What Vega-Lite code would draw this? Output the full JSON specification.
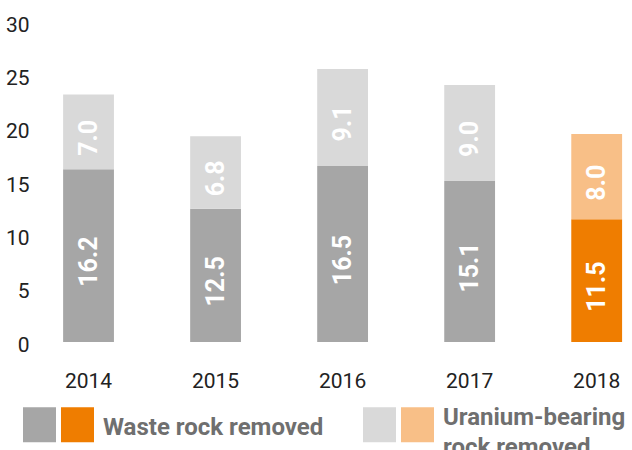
{
  "$schema": "https://vega.github.io/schema/vega-lite/v6.json",
  "width": 592,
  "height": 320,
  "autosize": "none",
  "padding": {"left": 40, "top": 22, "right": 0, "bottom": 108},
  "background": "white",
  "config": {"view": {"stroke": null}, "style": {"guide-label": {"lineHeight": 10}}},
  "data": {"values": [
    {"year": "2014", "series": "Waste rock removed", "value": 16.2},
    {"year": "2014", "series": "Uranium-bearing rock removed", "value": 7.0},
    {"year": "2015", "series": "Waste rock removed", "value": 12.5},
    {"year": "2015", "series": "Uranium-bearing rock removed", "value": 6.8},
    {"year": "2016", "series": "Waste rock removed", "value": 16.5},
    {"year": "2016", "series": "Uranium-bearing rock removed", "value": 9.1},
    {"year": "2017", "series": "Waste rock removed", "value": 15.1},
    {"year": "2017", "series": "Uranium-bearing rock removed", "value": 9.0},
    {"year": "2018", "series": "Waste rock removed", "value": 11.5},
    {"year": "2018", "series": "Uranium-bearing rock removed", "value": 8.0}
  ]},
  "encoding": {
    "x": {
      "field": "year", "type": "ordinal",
      "scale": {"paddingInner": 0.6, "paddingOuter": 0.13, "align": 0.7},
      "axis": {"title": null, "domain": false, "ticks": false, "grid": false, "labelAngle": 0,
               "labelFont": "Roboto", "labelFontSize": 21, "labelColor": "#222222", "labelPadding": 28}
    }
  },
  "layer": [
    {
      "transform": [{"filter": "datum.year != '2018'"}],
      "mark": {"type": "bar"},
      "encoding": {
        "y": {"field": "value", "type": "quantitative", "stack": "zero",
              "scale": {"domain": [0, 30], "nice": false},
              "axis": {"title": null, "values": [0, 5, 10, 15, 20, 25, 30], "domain": false, "ticks": false, "grid": false,
                       "labelFont": "Roboto", "labelFontSize": 21, "labelColor": "#222222", "labelPadding": 11, "labelOffset": 3}},
        "color": {"field": "series", "type": "nominal",
                  "scale": {"domain": ["Waste rock removed", "Uranium-bearing rock removed"], "range": ["#a6a6a6", "#d9d9d9"]},
                  "legend": {"title": null, "orient": "none", "direction": "horizontal", "legendX": -18, "legendY": 385,
                             "padding": 0, "columnPadding": 76,
                             "symbolType": "M-0.943,-1H0.943V1H-0.943Z", "symbolSize": 1225, "symbolStrokeWidth": 0, "symbolOpacity": 1,
                             "labelFont": "Roboto", "labelFontWeight": "bold", "labelFontSize": 24, "labelColor": "#6f6f6f",
                             "labelOpacity": 0, "labelOffset": 8, "labelLimit": 400, "labelBaseline": "alphabetic",
                             "labelExpr": "datum.label == 'Uranium-bearing rock removed' ? ['Uranium-bearing', '\u200b', '\u200b', 'rock removed'] : ['\u200b', datum.label, '\u200b', '\u200b']"}},
        "order": {"field": "series", "sort": "descending"}
      }
    },
    {
      "transform": [{"filter": "datum.year == '2018'"}],
      "mark": {"type": "bar"},
      "encoding": {
        "y": {"field": "value", "type": "quantitative", "stack": "zero"},
        "color": {"field": "series", "type": "nominal",
                  "scale": {"domain": ["Waste rock removed", "Uranium-bearing rock removed"], "range": ["#ef7d00", "#f8bf87"]},
                  "legend": {"title": null, "orient": "none", "direction": "horizontal", "legendX": 20, "legendY": 385,
                             "padding": 0, "columnPadding": 76,
                             "symbolType": "M-0.943,-1H0.943V1H-0.943Z", "symbolSize": 1225, "symbolStrokeWidth": 0, "symbolOpacity": 1,
                             "labelFont": "Roboto", "labelFontWeight": "bold", "labelFontSize": 24, "labelColor": "#6f6f6f",
                             "labelOffset": 8, "labelLimit": 400, "labelBaseline": "alphabetic",
                             "labelExpr": "datum.label == 'Uranium-bearing rock removed' ? ['Uranium-bearing', '\u200b', '\u200b', 'rock removed'] : ['\u200b', datum.label, '\u200b', '\u200b']"}},
        "order": {"field": "series", "sort": "descending"}
      }
    },
    {
      "transform": [
        {"stack": "value", "groupby": ["year"], "sort": [{"field": "series", "order": "descending"}], "as": ["v0", "v1"]},
        {"calculate": "(datum.v0 + datum.v1) / 2", "as": "mid"}
      ],
      "mark": {"type": "text", "angle": 270, "align": "center", "baseline": "middle", "dx": -6,
               "font": "Liberation Sans Narrow, Roboto", "fontWeight": "bold", "fontSize": 25, "color": "white"},
      "encoding": {
        "y": {"field": "mid", "type": "quantitative"},
        "text": {"field": "value", "type": "quantitative", "format": ".1f"}
      }
    }
  ],
  "resolve": {"scale": {"color": "independent"}, "legend": {"color": "independent"}}
}
